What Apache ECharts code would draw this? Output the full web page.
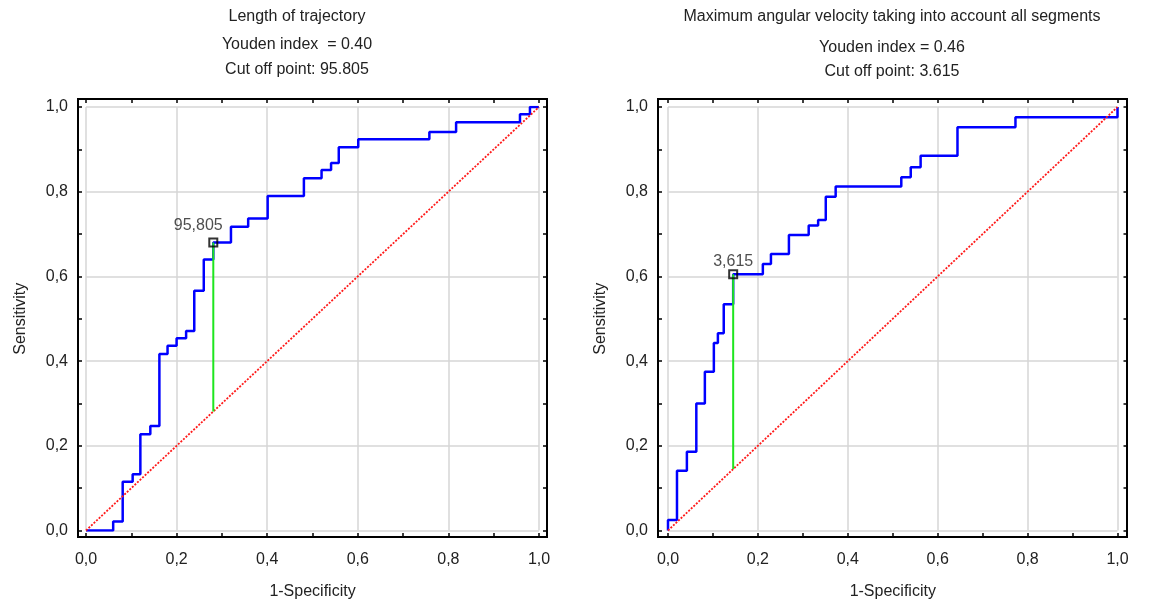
<!DOCTYPE html>
<html>
<head>
<meta charset="utf-8">
<script src="https://cdn.jsdelivr.net/npm/echarts@6/dist/echarts.min.js"></script>
<style>
  html, body { margin: 0; padding: 0; background: #fff; }
  #chart { width: 1154px; height: 599px; }
</style>
</head>
<body>
<div id="chart"></div>
<script>
// ROC points, [1-specificity, sensitivity]
const lengthRoc = [
  [0, 0], [0.060, 0.021], [0.081, 0.115], [0.103, 0.133], [0.120, 0.227],
  [0.142, 0.247], [0.162, 0.417], [0.180, 0.436], [0.200, 0.454], [0.221, 0.471],
  [0.239, 0.566], [0.260, 0.640], [0.281, 0.680], [0.320, 0.717], [0.358, 0.737],
  [0.401, 0.790], [0.481, 0.832], [0.520, 0.851], [0.541, 0.868], [0.558, 0.905],
  [0.601, 0.924], [0.758, 0.941], [0.817, 0.964], [0.958, 0.983], [0.980, 1.0],
  [1.0, 1.0]
]
const angularRoc = [
  [0, 0], [0, 0.025], [0.020, 0.141], [0.042, 0.186], [0.063, 0.300],
  [0.082, 0.375], [0.102, 0.443], [0.111, 0.466], [0.124, 0.534], [0.145, 0.605],
  [0.211, 0.629], [0.229, 0.653], [0.269, 0.698], [0.313, 0.720], [0.334, 0.733],
  [0.351, 0.788], [0.373, 0.812], [0.519, 0.834], [0.540, 0.858], [0.562, 0.885],
  [0.644, 0.952], [0.773, 0.976], [1.0, 1.0]
]
const diagonal = [[0, 0], [1, 1]]

const lengthCutoff = [0.281, 0.680]
const angularCutoff = [0.145, 0.605]
const lengthCutoffLabel = '95,805'
const angularCutoffLabel = '3,615'

const lengthTitles = ['Length of trajectory', 'Youden index  = 0.40', 'Cut off point: 95.805']
const angularTitles = ['Maximum angular velocity taking into account all segments', 'Youden index = 0.46', 'Cut off point: 3.615']
const lengthTitleTops = [4, 32, 57]
const angularTitleTops = [4, 35, 59]

const axisTicks = [0, 0.2, 0.4, 0.6, 0.8, 1.0]
const xName = '1-Specificity'
const yName = 'Sensitivity'

const font = '"Liberation Sans", Arial, sans-serif'
const textColor = '#222'

// data areas and the black frames a little outside them
const dataGrids = [
  { left: 86, right: 615, top: 107, bottom: 68.5 },
  { left: 668, right: 36.5, top: 107, bottom: 68.5 }
]
const frameGrids = [
  { left: 78, right: 607, top: 99, bottom: 62 },
  { left: 658, right: 27, top: 99, bottom: 62 }
]
const offsets = [
  { left: 8, right: 8, top: 8, bottom: 6.5 },
  { left: 10, right: 10, top: 8, bottom: 6.5 }
]

function fmt(v) {
  return v.toFixed(1).replace('.', ',')
}

const tickStyle = { show: true, inside: true, length: 4, lineStyle: { color: '#000', width: 1.5 } }
const minorStyle = { show: true, splitNumber: 2, length: 4, lineStyle: { color: '#000', width: 1.5 } }
const gridLine = { show: true, lineStyle: { color: '#d6d6d6', width: 1.5 } }

function valueAxis(extra) {
  return Object.assign({
    type: 'value',
    min: axisTicks[0],
    max: axisTicks[axisTicks.length - 1],
    interval: axisTicks[1] - axisTicks[0],
    axisLine: { show: false, onZero: false },
    axisTick: tickStyle,
    minorTick: minorStyle,
    splitLine: { show: false },
    axisLabel: { show: false }
  }, extra)
}

const xAxes = []
const yAxes = []
const grids = []
dataGrids.forEach(g => grids.push(Object.assign({ containLabel: false, outerBoundsMode: 'none' }, g)))
frameGrids.forEach(g => {
  grids.push(Object.assign({
    containLabel: false, outerBoundsMode: 'none',
    show: true, borderColor: '#000', borderWidth: 2, backgroundColor: 'transparent'
  }, g))
})

;[0, 1].forEach(i => {
  const off = offsets[i]
  xAxes.push(valueAxis({
    gridIndex: i,
    position: 'bottom',
    offset: off.bottom,
    splitLine: gridLine,
    axisLabel: { show: true, formatter: fmt, margin: 15, fontSize: 16, color: textColor, fontFamily: font },
    name: xName,
    nameLocation: 'middle',
    nameGap: 47,
    nameTextStyle: { fontSize: 16, color: textColor, fontFamily: font }
  }))
  xAxes.push(valueAxis({ gridIndex: i, position: 'top', offset: off.top }))
  yAxes.push(valueAxis({
    gridIndex: i,
    position: 'left',
    offset: off.left,
    splitLine: gridLine,
    axisLabel: { show: true, formatter: fmt, margin: 10, fontSize: 16, color: textColor, fontFamily: font },
    name: yName,
    nameLocation: 'middle',
    nameGap: 49,
    nameTextStyle: { fontSize: 16, color: textColor, fontFamily: font }
  }))
  yAxes.push(valueAxis({ gridIndex: i, position: 'right', offset: off.right }))
})
// hidden axes for the frame grids
;[2, 3].forEach(i => {
  xAxes.push({ type: 'value', gridIndex: i, show: false, min: 0, max: 1 })
  yAxes.push({ type: 'value', gridIndex: i, show: false, min: 0, max: 1 })
})

function rocSeries(idx, roc, cutoff, cutoffLabel, labelOffset, labelDistance) {
  const xi = idx * 2
  const yi = idx * 2
  return [{
    type: 'line',
    xAxisIndex: xi,
    yAxisIndex: yi,
    data: roc,
    step: 'end',
    showSymbol: false,
    lineStyle: { color: '#0000ff', width: 2.5 },
    z: 3
  }, {
    type: 'line',
    xAxisIndex: xi,
    yAxisIndex: yi,
    data: diagonal,
    showSymbol: false,
    lineStyle: { color: '#ff1a1a', width: 1.8, type: [2, 1.5] },
    z: 4
  }, {
    type: 'line',
    xAxisIndex: xi,
    yAxisIndex: yi,
    data: [[cutoff[0], cutoff[0]], cutoff],
    showSymbol: false,
    lineStyle: { color: '#1ee61e', width: 2 },
    z: 5
  }, {
    type: 'scatter',
    xAxisIndex: xi,
    yAxisIndex: yi,
    data: [cutoff],
    symbol: 'rect',
    symbolSize: 8,
    itemStyle: { color: 'rgba(255,255,255,0)', borderColor: '#000', borderWidth: 2 },
    label: {
      show: true,
      position: 'top',
      distance: labelDistance,
      offset: labelOffset,
      formatter: cutoffLabel,
      fontSize: 16,
      color: textColor,
      fontFamily: font
    },
    z: 6
  }, {
    // invisible, only so the top and right tick axes are not blank
    type: 'line',
    xAxisIndex: xi + 1,
    yAxisIndex: yi + 1,
    data: diagonal,
    showSymbol: false,
    silent: true,
    lineStyle: { opacity: 0 }
  }]
}

const titleStyle = { fontSize: 16, fontWeight: 'normal', color: textColor, fontFamily: font }
const titles = []
lengthTitles.forEach((t, i) => {
  titles.push({ text: t, left: 292, top: lengthTitleTops[i], textAlign: 'center', textStyle: titleStyle })
})
angularTitles.forEach((t, i) => {
  titles.push({ text: t, left: 887, top: angularTitleTops[i], textAlign: 'center', textStyle: titleStyle })
})

const chart = echarts.init(document.getElementById('chart'))
chart.setOption({
  animation: false,
  backgroundColor: '#fff',
  title: titles,
  grid: grids,
  xAxis: xAxes,
  yAxis: yAxes,
  series: [].concat(
    rocSeries(0, lengthRoc, lengthCutoff, lengthCutoffLabel, [-15, 0], 4),
    rocSeries(1, angularRoc, angularCutoff, angularCutoffLabel, [0, 0], 0)
  )
})
</script>
</body>
</html>
